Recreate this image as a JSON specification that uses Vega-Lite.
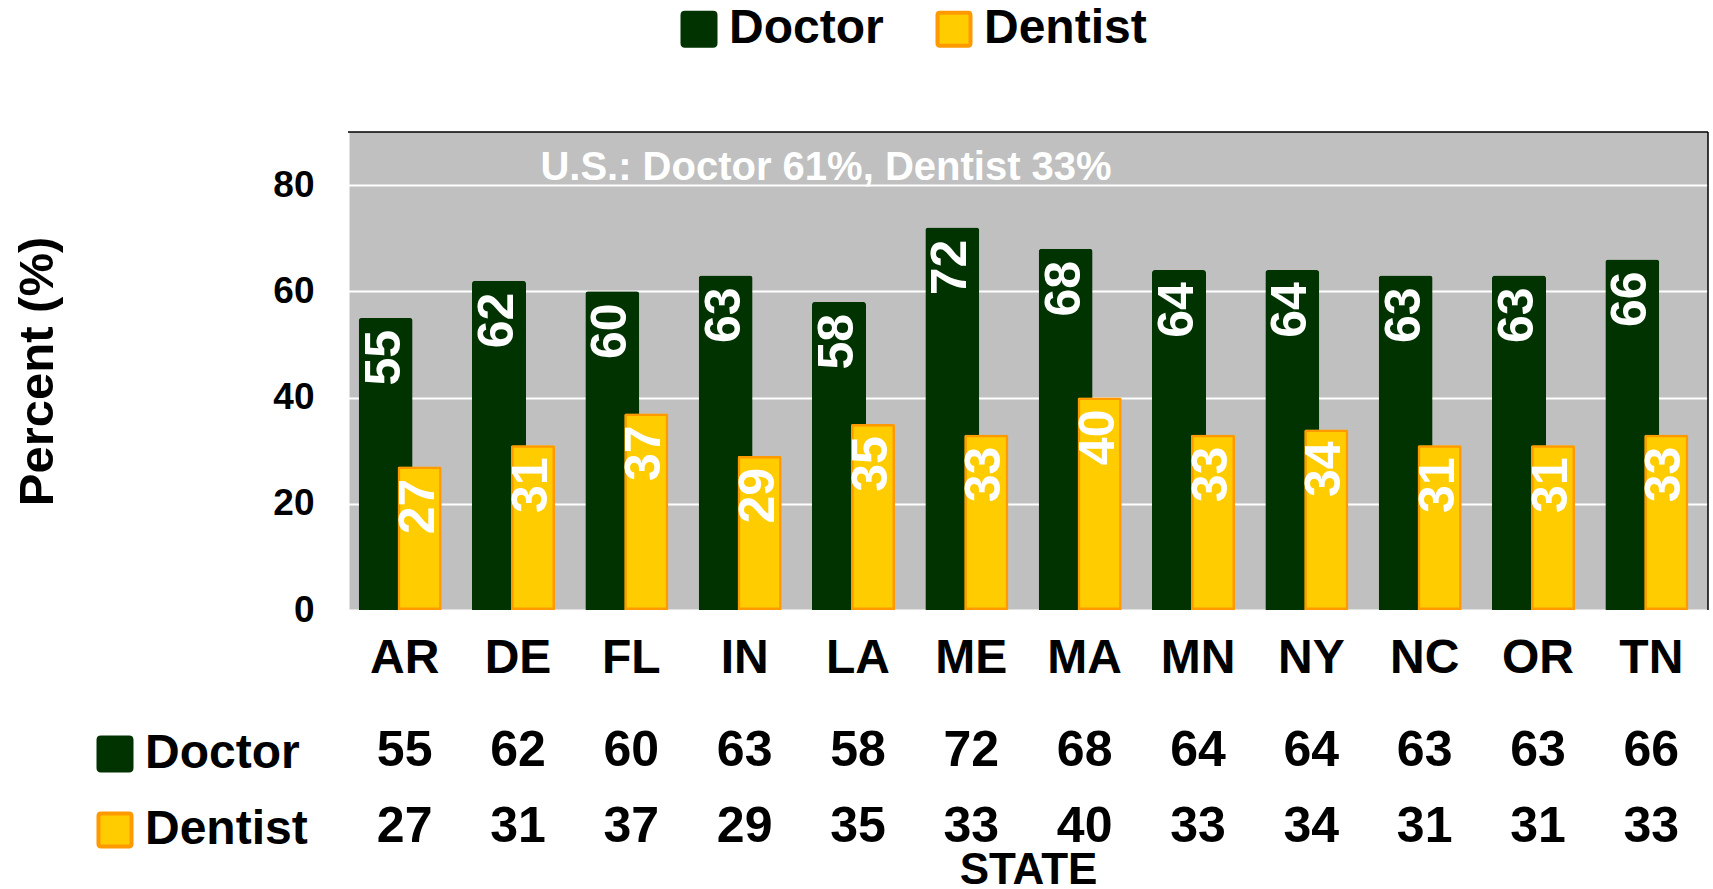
{
  "$schema": "https://vega.github.io/schema/vega-lite/v6.json",
  "padding": {"left": 13, "top": 5, "right": 2, "bottom": 2},
  "bounds": "flush",
  "spacing": 118,
  "config": {"font": "Liberation Sans", "view": {"stroke": null}},
  "datasets": {
    "rates": [
      {"state": "AR", "type": "Doctor", "value": 55}, {"state": "AR", "type": "Dentist", "value": 27},
      {"state": "DE", "type": "Doctor", "value": 62}, {"state": "DE", "type": "Dentist", "value": 31},
      {"state": "FL", "type": "Doctor", "value": 60}, {"state": "FL", "type": "Dentist", "value": 37},
      {"state": "IN", "type": "Doctor", "value": 63}, {"state": "IN", "type": "Dentist", "value": 29},
      {"state": "LA", "type": "Doctor", "value": 58}, {"state": "LA", "type": "Dentist", "value": 35},
      {"state": "ME", "type": "Doctor", "value": 72}, {"state": "ME", "type": "Dentist", "value": 33},
      {"state": "MA", "type": "Doctor", "value": 68}, {"state": "MA", "type": "Dentist", "value": 40},
      {"state": "MN", "type": "Doctor", "value": 64}, {"state": "MN", "type": "Dentist", "value": 33},
      {"state": "NY", "type": "Doctor", "value": 64}, {"state": "NY", "type": "Dentist", "value": 34},
      {"state": "NC", "type": "Doctor", "value": 63}, {"state": "NC", "type": "Dentist", "value": 31},
      {"state": "OR", "type": "Doctor", "value": 63}, {"state": "OR", "type": "Dentist", "value": 31},
      {"state": "TN", "type": "Doctor", "value": 66}, {"state": "TN", "type": "Dentist", "value": 33}
    ],
    "note": [{"label": "U.S.: Doctor 61%, Dentist 33%"}],
    "one": [{"k": 1}]
  },
  "resolve": {
    "scale": {"fill": "independent", "stroke": "independent"},
    "legend": {"fill": "independent", "stroke": "independent"}
  },
  "vconcat": [
    {
      "width": 1360,
      "height": 478,
      "view": {"fill": "#C0C0C0", "stroke": null},
      "layer": [
        {
          "data": {"name": "rates"},
          "transform": [{"filter": "datum.type === 'Doctor'"}],
          "mark": {"type": "bar", "width": 54, "xOffset": -19, "cornerRadiusTopLeft": 3, "cornerRadiusTopRight": 3, "strokeWidth": 0},
          "encoding": {
            "x": {"field": "state", "type": "nominal", "scale": {"domain": ["AR","DE","FL","IN","LA","ME","MA","MN","NY","NC","OR","TN"], "paddingInner": 0, "paddingOuter": 0},
                  "axis": {"title": null, "labelFontSize": 48, "labelFontWeight": "bold", "labelColor": "black", "labelPadding": 24, "ticks": false, "tickSize": 0, "domain": false, "labelAngle": 0, "labelOverlap": false, "grid": false}},
            "y": {"field": "value", "type": "quantitative", "scale": {"domain": [0, 90], "nice": false},
                  "axis": {"title": "Percent (%)", "titleFontSize": 49, "titleFontWeight": "bold", "titleColor": "black", "titlePadding": 210,
                           "values": [0, 20, 40, 60, 80], "labelFontSize": 37, "labelFontWeight": "bold", "labelColor": "black", "labelPadding": 34,
                           "ticks": false, "tickSize": 0, "domain": true, "domainColor": "white", "domainWidth": 2,
                           "grid": true, "gridColor": "white", "gridWidth": 2, "gridOpacity": 1}},
            "fill": {"field": "type", "type": "nominal", "scale": {"domain": ["Doctor", "Dentist"], "range": ["#003300", "#FFCC00"]},
                     "legend": {"orient": "none", "legendX": 327, "legendY": -127, "direction": "horizontal", "title": null,
                                "labelFontSize": 48, "labelFontWeight": "bold", "labelColor": "black", "labelOffset": 6, "columnPadding": 45, "labelLimit": 400,
                                "symbolType": "M-0.85,-1H0.85Q1,-1 1,-0.85V0.85Q1,1 0.85,1H-0.85Q-1,1 -1,0.85V-0.85Q-1,-1 -0.85,-1Z",
                                "symbolSize": 1089, "symbolStrokeWidth": 4, "symbolOpacity": 1}},
            "stroke": {"field": "type", "type": "nominal", "scale": {"domain": ["Doctor", "Dentist"], "range": ["#003300", "#FF9900"]},
                     "legend": {"orient": "none", "legendX": 327, "legendY": -127, "direction": "horizontal", "title": null,
                                "labelFontSize": 48, "labelFontWeight": "bold", "labelColor": "black", "labelOffset": 6, "columnPadding": 45, "labelLimit": 400,
                                "symbolType": "M-0.85,-1H0.85Q1,-1 1,-0.85V0.85Q1,1 0.85,1H-0.85Q-1,1 -1,0.85V-0.85Q-1,-1 -0.85,-1Z",
                                "symbolSize": 1089, "symbolStrokeWidth": 4, "symbolOpacity": 1}}
          }
        },
        {
          "data": {"name": "rates"},
          "transform": [{"filter": "datum.type === 'Dentist'"}],
          "mark": {"type": "bar", "width": 44, "xOffset": 15, "cornerRadiusTopLeft": 2, "cornerRadiusTopRight": 2, "strokeWidth": 5},
          "encoding": {
            "x": {"field": "state", "type": "nominal", "scale": {"domain": ["AR","DE","FL","IN","LA","ME","MA","MN","NY","NC","OR","TN"], "paddingInner": 0, "paddingOuter": 0}},
            "y": {"field": "value", "type": "quantitative", "scale": {"domain": [0, 90], "nice": false}},
            "fill": {"field": "type", "type": "nominal", "scale": {"domain": ["Doctor", "Dentist"], "range": ["#003300", "#FFCC00"]}},
            "stroke": {"field": "type", "type": "nominal", "scale": {"domain": ["Doctor", "Dentist"], "range": ["#003300", "#FF9900"]}}
          }
        },
        {
          "data": {"name": "rates"},
          "transform": [{"filter": "datum.type === 'Doctor'"}],
          "mark": {"type": "text", "angle": 270, "align": "right", "baseline": "middle", "dx": -12, "dy": -1, "xOffset": -19, "fontSize": 50, "fontWeight": "bold", "color": "white"},
          "encoding": {
            "x": {"field": "state", "type": "nominal", "scale": {"domain": ["AR","DE","FL","IN","LA","ME","MA","MN","NY","NC","OR","TN"], "paddingInner": 0, "paddingOuter": 0}},
            "y": {"field": "value", "type": "quantitative", "scale": {"domain": [0, 90], "nice": false}},
            "text": {"field": "value", "type": "quantitative"}
          }
        },
        {
          "data": {"name": "rates"},
          "transform": [{"filter": "datum.type === 'Dentist'"}],
          "mark": {"type": "text", "angle": 270, "align": "right", "baseline": "middle", "dx": -12, "dy": -1, "xOffset": 15, "fontSize": 50, "fontWeight": "bold", "color": "white"},
          "encoding": {
            "x": {"field": "state", "type": "nominal", "scale": {"domain": ["AR","DE","FL","IN","LA","ME","MA","MN","NY","NC","OR","TN"], "paddingInner": 0, "paddingOuter": 0}},
            "y": {"field": "value", "type": "quantitative", "scale": {"domain": [0, 90], "nice": false}},
            "text": {"field": "value", "type": "quantitative"}
          }
        },
        {
          "data": {"name": "note"},
          "mark": {"type": "text", "align": "center", "baseline": "alphabetic", "dx": -32, "fontSize": 40, "fontWeight": "bold", "color": "white"},
          "encoding": {
            "x": {"datum": "LA", "scale": {"domain": ["AR","DE","FL","IN","LA","ME","MA","MN","NY","NC","OR","TN"], "paddingInner": 0, "paddingOuter": 0}},
            "y": {"datum": 81, "scale": {"domain": [0, 90], "nice": false}},
            "text": {"field": "label", "type": "nominal"}
          }
        },
        {
          "data": {"name": "one"},
          "mark": {"type": "rule", "color": "black", "strokeWidth": 1.5},
          "encoding": {
            "y": {"datum": 90, "scale": {"domain": [0, 90], "nice": false}}
          }
        },
        {
          "data": {"name": "one"},
          "mark": {"type": "rule", "color": "black", "strokeWidth": 1.5},
          "encoding": {
            "x": {"datum": "TN", "bandPosition": 1, "scale": {"domain": ["AR","DE","FL","IN","LA","ME","MA","MN","NY","NC","OR","TN"], "paddingInner": 0, "paddingOuter": 0}},
            "y": {"datum": 0, "scale": {"domain": [0, 90], "nice": false}},
            "y2": {"datum": 90}
          }
        }
      ]
    },
    {
      "width": 1360,
      "height": 152,
      "view": {"stroke": null},
      "data": {"name": "rates"},
      "encoding": {
        "x": {"field": "state", "type": "nominal", "scale": {"domain": ["AR","DE","FL","IN","LA","ME","MA","MN","NY","NC","OR","TN"], "paddingInner": 0, "paddingOuter": 0},
              "axis": {"title": "STATE", "labels": false, "ticks": false, "domain": false, "grid": false, "titleFontSize": 44, "titleFontWeight": "bold", "titleColor": "black", "titlePadding": 3, "titleBaseline": "alphabetic"}},
        "y": {"field": "type", "type": "nominal", "scale": {"type": "point", "domain": ["Doctor", "Dentist"], "padding": 0.5}, "axis": null}
      },
      "layer": [
        {
          "mark": {"type": "text", "fontSize": 50, "fontWeight": "bold", "color": "black", "baseline": "alphabetic", "align": "center"},
          "encoding": {"text": {"field": "value", "type": "quantitative"}}
        },
        {
          "mark": {"type": "point", "filled": true, "size": 0, "strokeWidth": 0},
          "encoding": {
            "fill": {"field": "type", "type": "nominal", "scale": {"domain": ["Doctor", "Dentist"], "range": ["#003300", "#FFCC00"]},
                     "legend": {"orient": "none", "legendX": -257, "legendY": 2, "direction": "vertical", "title": null,
                                "labelFontSize": 48, "labelFontWeight": "bold", "labelColor": "black", "labelOffset": 6, "rowPadding": 26, "labelLimit": 400,
                                "symbolType": "M-0.85,-1H0.85Q1,-1 1,-0.85V0.85Q1,1 0.85,1H-0.85Q-1,1 -1,0.85V-0.85Q-1,-1 -0.85,-1Z",
                                "symbolSize": 1089, "symbolStrokeWidth": 4, "symbolOpacity": 1}},
            "stroke": {"field": "type", "type": "nominal", "scale": {"domain": ["Doctor", "Dentist"], "range": ["#003300", "#FF9900"]},
                     "legend": {"orient": "none", "legendX": -257, "legendY": 2, "direction": "vertical", "title": null,
                                "labelFontSize": 48, "labelFontWeight": "bold", "labelColor": "black", "labelOffset": 6, "rowPadding": 26, "labelLimit": 400,
                                "symbolType": "M-0.85,-1H0.85Q1,-1 1,-0.85V0.85Q1,1 0.85,1H-0.85Q-1,1 -1,0.85V-0.85Q-1,-1 -0.85,-1Z",
                                "symbolSize": 1089, "symbolStrokeWidth": 4, "symbolOpacity": 1}}
          }
        }
      ]
    }
  ]
}
